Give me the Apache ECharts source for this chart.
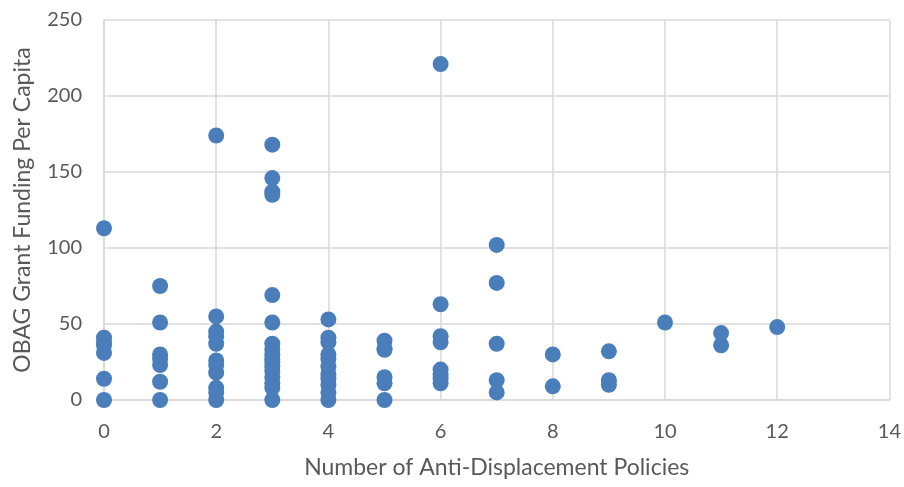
<!DOCTYPE html>
<html>
<head>
<meta charset="utf-8">
<script src="https://cdn.jsdelivr.net/npm/echarts@6/dist/echarts.min.js"></script>
<style>
  html, body { margin: 0; padding: 0; background: #fff; }
  #chart { width: 904px; height: 487px; }
</style>
</head>
<body>
<div id="chart"></div>
<script>
// number of anti-displacement policies -> funding values
const policyCounts = [0, 1, 2, 3, 4, 5, 6, 7, 8, 9, 10, 11, 12];
const fundingByCount = [
  [113, 41, 38, 36, 31, 14, 0],
  [75, 51, 30, 27, 23, 12, 0],
  [174, 55, 45, 42, 37, 26, 23, 18, 8, 5, 0],
  [168, 146, 137, 135, 69, 51, 37, 33, 30, 27, 25, 22, 19, 15, 11, 8, 0],
  [53, 41, 38, 30, 27, 22, 17, 14, 10, 5, 0],
  [39, 34, 33, 15, 11, 0],
  [221, 63, 42, 38, 20, 17, 14, 11],
  [102, 77, 37, 13, 5],
  [30, 9],
  [32, 13, 10],
  [51],
  [44, 36],
  [48]
];
const xTicks = [0, 2, 4, 6, 8, 10, 12, 14];
const yTicks = [0, 50, 100, 150, 200, 250];

const points = [];
policyCounts.forEach(function (n, i) {
  fundingByCount[i].forEach(function (v) { points.push([n, v]); });
});

const textColor = '#595959';
const gridColor = '#d9d9d9';
const font = 'Lato, "Open Sans", sans-serif';

var chart = echarts.init(document.getElementById('chart'));
chart.setOption({
  animation: false,
  grid: { left: 104, right: 14, top: 20, bottom: 87 },
  xAxis: {
    type: 'value',
    min: xTicks[0],
    max: xTicks[xTicks.length - 1],
    interval: 2,
    name: 'Number of Anti-Displacement Policies',
    nameLocation: 'middle',
    nameGap: 56,
    nameTextStyle: { color: textColor, fontSize: 23, fontFamily: font },
    axisLine: { show: true, lineStyle: { color: gridColor, width: 1.5 } },
    axisTick: { show: false },
    axisLabel: { color: textColor, fontSize: 20, fontFamily: font, margin: 22 },
    splitLine: { show: true, lineStyle: { color: gridColor, width: 1.5 } }
  },
  yAxis: {
    type: 'value',
    min: yTicks[0],
    max: yTicks[yTicks.length - 1],
    interval: 50,
    name: 'OBAG Grant Funding Per Capita',
    nameLocation: 'middle',
    nameGap: 70,
    nameTextStyle: { color: textColor, fontSize: 23, fontFamily: font },
    axisLine: { show: true, lineStyle: { color: gridColor, width: 1.5 } },
    axisTick: { show: false },
    axisLabel: { color: textColor, fontSize: 20, fontFamily: font, margin: 22 },
    splitLine: { show: true, lineStyle: { color: gridColor, width: 1.5 } }
  },
  series: [{
    type: 'scatter',
    data: points,
    symbolSize: 16,
    itemStyle: { color: '#4a7ebb', opacity: 1 }
  }]
});
</script>
</body>
</html>
